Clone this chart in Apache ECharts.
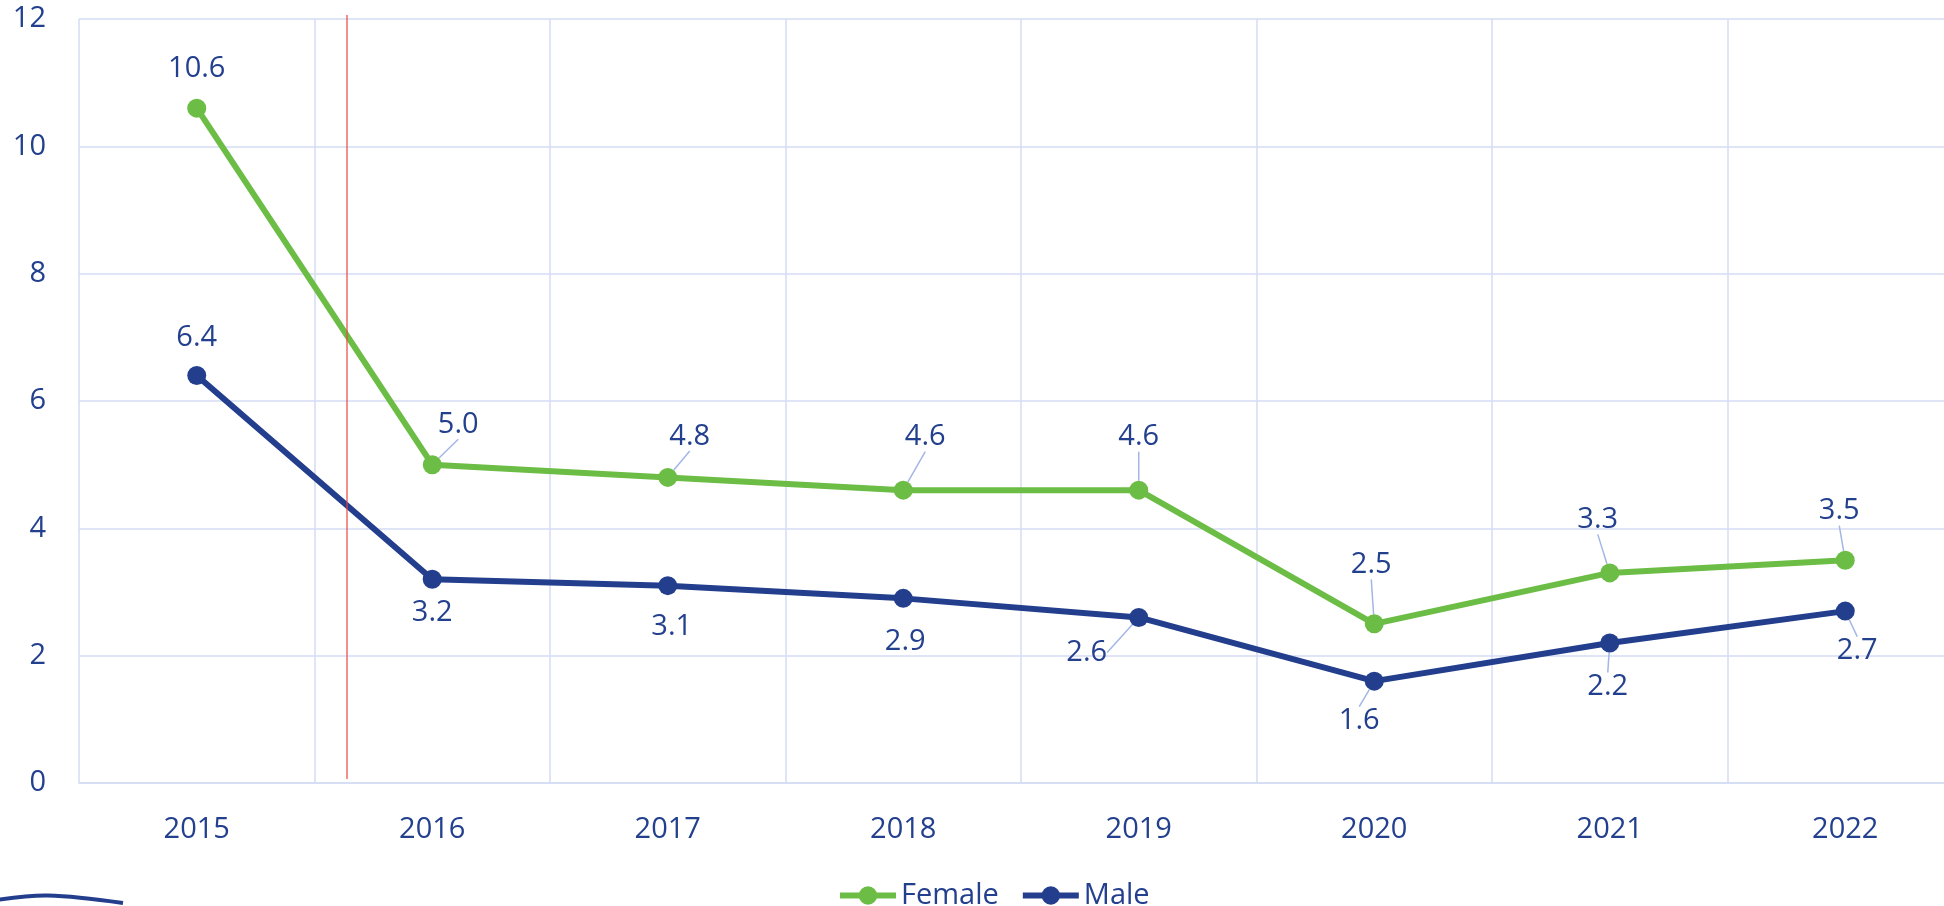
<!DOCTYPE html>
<html>
<head>
<meta charset="utf-8">
<script src="https://cdn.jsdelivr.net/npm/echarts@6/dist/echarts.min.js"></script>
<style>
  html, body { margin: 0; padding: 0; background: #ffffff; }
  #chart { width: 1944px; height: 906px; }
</style>
</head>
<body>
<div id="chart"></div>
<script>
// Years on the category axis
const years = ['2015', '2016', '2017', '2018', '2019', '2020', '2021', '2022'];
// Rates by sex
const female = [10.6, 5.0, 4.8, 4.6, 4.6, 2.5, 3.3, 3.5];
const male = [6.4, 3.2, 3.1, 2.9, 2.6, 1.6, 2.2, 2.7];
// Value axis ticks
const yTicks = [0, 2, 4, 6, 8, 10, 12];

// Label placement relative to each point (pixels), and whether a leader line is drawn
const femaleLabelOffset = [[0, -39], [26, -40], [22, -41], [22, -53], [0, -53], [-3, -59], [-12, -53], [-6, -49]];
const maleLabelOffset = [[0, -38], [0, 33], [4, 41], [2, 43], [-52, 35], [-15, 40], [-2, 44], [12, 40]];
const femaleLeader = [false, true, true, true, true, true, true, true];
const maleLeader = [false, false, false, false, true, true, true, true];

const textColor = '#23408E';
const gridColor = '#D5DDF3';
const font = 'Open Sans';

function buildData(values, leaders) {
  return values.map((v, i) => ({ value: v, labelLine: { show: leaders[i] } }));
}

function layoutFor(offsets) {
  return function (p) {
    const o = offsets[p.dataIndex];
    const cx = p.rect.x + p.rect.width / 2;
    const cy = p.rect.y + p.rect.height / 2;
    return { x: cx + o[0], y: cy + o[1], align: 'center', verticalAlign: 'middle' };
  };
}

const chart = echarts.init(document.getElementById('chart'), null, { renderer: 'canvas' });

const labelStyle = {
  show: true,
  color: textColor,
  fontFamily: font,
  fontSize: 29,
  formatter: p => p.value.toFixed(1)
};
const leaderStyle = { show: true, lineStyle: { color: '#A3B6E6', width: 1.5 } };

chart.setOption({
  animation: false,
  backgroundColor: '#ffffff',
  textStyle: { fontFamily: font },
  // the plot runs past the right edge of the canvas
  grid: { left: 79, top: 19, width: 1884, bottom: 123, containLabel: false, outerBoundsMode: 'none' },
  xAxis: {
    type: 'category',
    data: years,
    boundaryGap: true,
    axisLine: { show: true, lineStyle: { color: gridColor, width: 1.5 } },
    axisTick: { show: false },
    splitLine: { show: true, interval: 0, lineStyle: { color: gridColor, width: 1.5 } },
    axisLabel: { color: textColor, fontSize: 29, fontFamily: font, margin: 32, interval: 0 }
  },
  yAxis: {
    type: 'value',
    min: yTicks[0],
    max: yTicks[yTicks.length - 1],
    interval: yTicks[1] - yTicks[0],
    axisLine: { show: false },
    axisTick: { show: false },
    splitLine: { show: true, lineStyle: { color: gridColor, width: 1.5 } },
    axisLabel: { color: textColor, fontSize: 29, fontFamily: font, margin: 33 }
  },
  legend: {
    left: 832,
    top: 876,
    itemWidth: 56,
    itemHeight: 23,
    itemGap: 21,
    lineStyle: { width: 6 },
    textStyle: { color: textColor, fontSize: 29, fontFamily: font, padding: [0, 0, 0, 0] },
    data: ['Female', 'Male']
  },
  series: [
    {
      name: 'Female',
      type: 'line',
      data: buildData(female, femaleLeader),
      symbol: 'circle',
      symbolSize: 19,
      itemStyle: { color: '#6CBD45' },
      lineStyle: { color: '#6CBD45', width: 6 },
      label: labelStyle,
      labelLine: leaderStyle,
      labelLayout: layoutFor(femaleLabelOffset)
    },
    {
      name: 'Male',
      type: 'line',
      data: buildData(male, maleLeader),
      symbol: 'circle',
      symbolSize: 19,
      itemStyle: { color: '#223E8D' },
      lineStyle: { color: '#223E8D', width: 6 },
      label: labelStyle,
      labelLine: leaderStyle,
      labelLayout: layoutFor(maleLabelOffset)
    }
  ],
  graphic: [
    {
      // thin red marker between the first two years
      type: 'line',
      shape: { x1: 347, y1: 15, x2: 347, y2: 779 },
      style: { stroke: '#E8473F', lineWidth: 1.2 },
      z: 10
    },
    {
      // stray stroke at the lower-left edge
      type: 'polyline',
      shape: { points: [[-4, 900], [48, 895.5], [123, 903]], smooth: 0.35 },
      style: { stroke: '#223E8D', lineWidth: 4, fill: null },
      z: 10
    }
  ]
});
</script>
</body>
</html>
